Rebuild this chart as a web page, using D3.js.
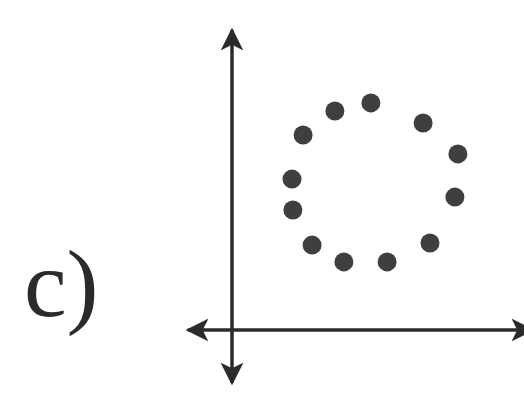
<!DOCTYPE html>
<html>
<head>
<meta charset="utf-8">
<script src="https://cdn.jsdelivr.net/npm/d3@7"></script>
<style>
  body { margin: 0; background: #fff; }
  svg { display: block; }
</style>
</head>
<body>
<div id="chart"></div>
<script>
// points (data units)
var pointX = [2.37, 3.43, 4.63, 6.37, 7.53, 7.43, 6.6, 5.17, 3.73, 2.67, 2.03, 2.0];
var pointY = [6.5, 7.3, 7.57, 6.9, 5.87, 4.43, 2.9, 2.27, 2.27, 2.83, 4.0, 5.03];
// axis extents (data units), both ends carry an arrow
var xAxisExtent = [-1.47, 10];
var yAxisExtent = [-1.77, 10];
var panelLabel = "c)";

var width = 524, height = 393;

var svg = d3.select("#chart")
  .append("svg")
    .attr("width", width)
    .attr("height", height);

var x = d3.scaleLinear().domain([0, 10]).range([232, 532]);
var y = d3.scaleLinear().domain([0, 10]).range([330, 30]);

var axisColor = "#2b2b2b";

// arrowhead marker
var defs = svg.append("defs");
defs.append("marker")
    .attr("id", "arrow")
    .attr("viewBox", "0 0 10 10")
    .attr("refX", 9)
    .attr("refY", 5)
    .attr("markerWidth", 6.5)
    .attr("markerHeight", 6.5)
    .attr("markerUnits", "strokeWidth")
    .attr("orient", "auto-start-reverse")
  .append("path")
    .attr("d", "M0,0 L10,5 L0,10 L2.5,5 Z")
    .attr("fill", axisColor);

// horizontal axis
svg.append("line")
    .attr("x1", x(xAxisExtent[0]))
    .attr("x2", x(xAxisExtent[1]))
    .attr("y1", y(0))
    .attr("y2", y(0))
    .attr("stroke", axisColor)
    .attr("stroke-width", 3.5)
    .attr("marker-start", "url(#arrow)")
    .attr("marker-end", "url(#arrow)");

// vertical axis
svg.append("line")
    .attr("x1", x(0))
    .attr("x2", x(0))
    .attr("y1", y(yAxisExtent[0]))
    .attr("y2", y(yAxisExtent[1]))
    .attr("stroke", axisColor)
    .attr("stroke-width", 3.5)
    .attr("marker-start", "url(#arrow)")
    .attr("marker-end", "url(#arrow)");

// dots
svg.selectAll("circle.dot")
    .data(d3.range(pointX.length))
    .enter()
    .append("circle")
      .attr("class", "dot")
      .attr("cx", function(i) { return x(pointX[i]); })
      .attr("cy", function(i) { return y(pointY[i]); })
      .attr("r", 9.5)
      .attr("fill", "#3f3f3f");

// panel label
svg.append("text")
    .attr("x", 24)
    .attr("y", 316)
    .attr("font-family", "'Times New Roman', 'Liberation Serif', serif")
    .attr("font-size", 96)
    .attr("fill", "#2b2b2b")
    .text(panelLabel);
</script>
</body>
</html>
